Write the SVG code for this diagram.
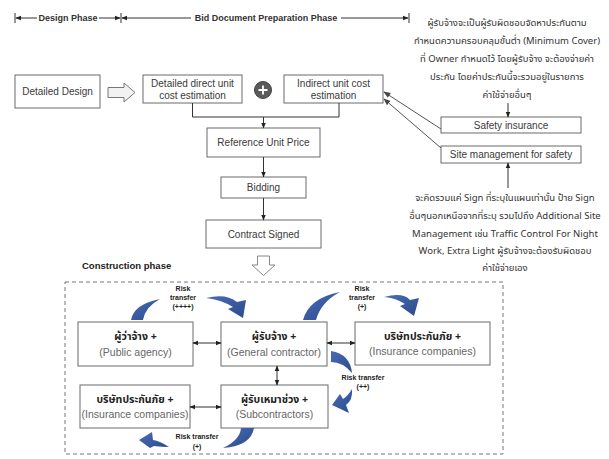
<svg xmlns="http://www.w3.org/2000/svg" width="609" height="459" viewBox="0 0 609 459">
<defs>
  <style>
    .box{fill:#fff;stroke:#6a6a6a;stroke-width:1}
    .t{font-family:"Liberation Sans",Arial,sans-serif;font-size:10px;fill:#3a3a3a;text-anchor:middle}
    .th{font-family:"Noto Sans Thai","Noto Sans","DejaVu Sans",sans-serif;font-size:9.5px;fill:#333;text-anchor:middle}
    .ph{font-family:"Liberation Sans",Arial,sans-serif;font-size:9px;font-weight:bold;fill:#333;text-anchor:middle}
    .cn{font-family:"Noto Sans Thai","Liberation Sans",sans-serif;font-size:10.5px;font-weight:bold;fill:#222;text-anchor:middle}
    .ce{font-family:"Liberation Sans",Arial,sans-serif;font-size:10.5px;fill:#666;text-anchor:middle}
    .rk{font-family:"Liberation Sans",Arial,sans-serif;font-size:7px;font-weight:bold;fill:#222;text-anchor:middle}
    .ln{fill:none;stroke:#333;stroke-width:1}
    .gl{fill:none;stroke:#555;stroke-width:1}
    .sw{fill:url(#blue);stroke:none}
  </style>
  <marker id="ah" viewBox="0 0 10 10" refX="9" refY="5" markerWidth="6" markerHeight="6" orient="auto-start-reverse">
    <path d="M0,1 L10,5 L0,9 Z" fill="#222"/>
  </marker>
  <marker id="ahg" viewBox="0 0 10 10" refX="9" refY="5" markerWidth="7" markerHeight="7" orient="auto">
    <path d="M0,1 L10,5 L0,9 Z" fill="#444"/>
  </marker>
  <linearGradient id="blue" x1="0" y1="0" x2="1" y2="1">
    <stop offset="0" stop-color="#4a6cb5"/>
    <stop offset="1" stop-color="#2c4a8c"/>
  </linearGradient>
</defs>

<!-- phase timeline -->
<g id="timeline">
  <line class="ln" x1="15" y1="13" x2="15" y2="23"/>
  <line class="ln" x1="121" y1="13" x2="121" y2="23"/>
  <line class="ln" x1="409" y1="13" x2="409" y2="23"/>
  <line class="ln" x1="37" y1="18" x2="16" y2="18" marker-end="url(#ah)"/>
  <line class="ln" x1="99" y1="18" x2="120" y2="18" marker-end="url(#ah)"/>
  <line class="ln" x1="191" y1="18" x2="122" y2="18" marker-end="url(#ah)"/>
  <line class="ln" x1="341" y1="18" x2="408" y2="18" marker-end="url(#ah)"/>
  <text class="ph" x="68" y="21">Design Phase</text>
  <text class="ph" x="266" y="21">Bid Document Preparation Phase</text>
</g>

<!-- bid preparation flow -->
<g id="detailed-design">
  <rect class="box" x="15" y="75" width="85" height="33"/>
  <text class="t" x="57.5" y="95">Detailed Design</text>
</g>
<g id="design-to-direct">
  <polygon points="108,87.5 124,87.5 124,83 135,92.5 124,102 124,97.5 108,97.5" fill="#f2f2f2" stroke="#777"/>
</g>
<g id="direct-cost">
  <rect class="box" x="143" y="75" width="99" height="28"/>
  <text class="t" x="192.5" y="87">Detailed direct unit</text>
  <text class="t" x="192.5" y="99">cost estimation</text>
</g>
<g id="plus">
  <circle cx="263" cy="90" r="8.5" fill="#5a5a5a" stroke="#444"/>
  <path d="M263,85.5 V94.5 M258.5,90 H267.5" stroke="#fff" stroke-width="1.8"/>
</g>
<g id="indirect-cost">
  <rect class="box" x="284" y="75" width="99" height="28"/>
  <text class="t" x="333.5" y="87">Indirect unit cost</text>
  <text class="t" x="333.5" y="99">estimation</text>
</g>
<g id="reference-price">
  <rect class="box" x="207" y="128" width="113" height="29"/>
  <text class="t" x="263.5" y="146">Reference Unit Price</text>
</g>
<g id="bidding">
  <rect class="box" x="221" y="177" width="85" height="21"/>
  <text class="t" x="263.5" y="191">Bidding</text>
</g>
<g id="contract-signed">
  <rect class="box" x="206" y="220" width="115" height="28"/>
  <text class="t" x="263.5" y="238">Contract Signed</text>
</g>
<g id="to-construction">
  <polygon points="257.5,256 269.5,256 269.5,265 275,265 263.5,275.5 252,265 257.5,265" fill="#fff" stroke="#888"/>
</g>

<!-- notes and safety items -->
<g id="insurance-note">
  <text class="th" x="507" y="26">ผู้รับจ้างจะเป็นผู้รับผิดชอบจัดหาประกันตาม</text>
  <text class="th" x="507" y="44">กำหนดความครอบคลุมขั้นต่ำ (Minimum Cover)</text>
  <text class="th" x="507" y="62">ที่ Owner กำหนดไว้ โดยผู้รับจ้าง จะต้องจ่ายค่า</text>
  <text class="th" x="507" y="80">ประกัน โดยค่าประกันนี้จะรวมอยู่ในรายการ</text>
  <text class="th" x="507" y="98">ค่าใช้จ่ายอื่นๆ</text>
</g>
<g id="safety-insurance">
  <rect class="box" x="441" y="117" width="140" height="16"/>
  <text class="t" x="511" y="128.5">Safety insurance</text>
</g>
<g id="site-management">
  <rect class="box" x="441" y="146" width="140" height="17"/>
  <text class="t" x="511" y="158">Site management for safety</text>
</g>
<g id="site-note">
  <text class="th" x="505" y="201">จะคิดรวมแค่ Sign ที่ระบุในแผนเท่านั้น ป้าย Sign</text>
  <text class="th" x="505" y="219">อื่นๆนอกเหนือจากที่ระบุ รวมไปถึง Additional Site</text>
  <text class="th" x="505" y="237">Management เช่น Traffic Control For Night</text>
  <text class="th" x="505" y="254">Work, Extra Light ผู้รับจ้างจะต้องรับผิดชอบ</text>
  <text class="th" x="505" y="271">ค่าใช้จ่ายเอง</text>
</g>

<!-- construction phase -->
<text x="82" y="269" font-family="Liberation Sans, Arial, sans-serif" font-size="9.5" font-weight="bold" fill="#222">Construction phase</text>
<rect x="65" y="282" width="438" height="172" fill="none" stroke="#777" stroke-dasharray="4,3"/>

<g id="public-agency">
  <rect class="box" x="78" y="322" width="115" height="44"/>
  <text class="cn" x="135.5" y="340">ผู้ว่าจ้าง +</text>
  <text class="ce" x="135.5" y="356">(Public agency)</text>
</g>
<g id="general-contractor">
  <rect class="box" x="221" y="322" width="106" height="44"/>
  <text class="cn" x="274" y="340">ผู้รับจ้าง +</text>
  <text class="ce" x="274" y="356">(General contractor)</text>
</g>
<g id="insurance-right">
  <rect class="box" x="355" y="322" width="135" height="43"/>
  <text class="cn" x="422.5" y="340">บริษัทประกันภัย +</text>
  <text class="ce" x="422.5" y="355">(Insurance companies)</text>
</g>
<g id="insurance-left">
  <rect class="box" x="80" y="385" width="110" height="43"/>
  <text class="cn" x="135" y="403">บริษัทประกันภัย +</text>
  <text class="ce" x="135" y="418">(Insurance companies)</text>
</g>
<g id="subcontractors">
  <rect class="box" x="221" y="385" width="107" height="43"/>
  <text class="cn" x="274.5" y="403">ผู้รับเหมาช่วง +</text>
  <text class="ce" x="274.5" y="418">(Subcontractors)</text>
</g>

<!-- risk transfer swooshes and labels -->
<g id="risk-transfer">
  <path class="sw" d="M131,320 Q134,304 160,299 Q145,307 143,320 Z"/>
  <path class="sw" d="M206,298 Q226,293 237,302 L246,300 L243,318 L228,309 L233,307 Q222,300 206,298 Z"/>
  <text class="rk" x="183" y="291">Risk</text>
  <text class="rk" x="183" y="300">transfer</text>
  <text class="rk" x="183" y="309">(++++)</text>

  <path class="sw" d="M303,320 Q309,298 340,292 Q321,302 316,320 Z"/>
  <path class="sw" d="M384,297 Q403,292 410,300 L419,298 L414,316 L400,306 L405,304 Q396,298 384,297 Z"/>
  <text class="rk" x="362" y="291">Risk</text>
  <text class="rk" x="362" y="300">transfer</text>
  <text class="rk" x="362" y="309">(+)</text>

  <path class="sw" d="M331,351 Q350,354 352,373 Q343,362 331,362 Z"/>
  <path class="sw" d="M352,389 Q353,400 346,405 L349,413 L332,405 L340,394 L343,399 Q348,396 352,389 Z"/>
  <text class="rk" x="363" y="380">Risk transfer</text>
  <text class="rk" x="363" y="389">(++)</text>

  <path class="sw" d="M241,428 L254,428 Q251,446 223,448 Q240,440 241,428 Z"/>
  <path class="sw" d="M169,447 Q160,441 153,440 L152,432 L139,440 L150,448 L154,446 Q162,447 169,447 Z"/>
  <text class="rk" x="197" y="439">Risk transfer</text>
  <text class="rk" x="197" y="449">(+)</text>
</g>

<!-- connectors -->
<g id="connectors">
  <path class="ln" d="M192.5,103 V117 H339 V103"/>
  <line class="ln" x1="263.5" y1="117" x2="263.5" y2="128" marker-end="url(#ah)"/>
  <line class="ln" x1="263.5" y1="157" x2="263.5" y2="177" marker-end="url(#ah)"/>
  <line class="ln" x1="263.5" y1="198" x2="263.5" y2="220" marker-end="url(#ah)"/>
  <line class="gl" x1="441" y1="129" x2="384" y2="92" marker-end="url(#ahg)"/>
  <line class="gl" x1="441" y1="148" x2="384" y2="99" marker-end="url(#ahg)"/>
  <line class="ln" x1="508" y1="103" x2="508" y2="117" marker-end="url(#ah)"/>
  <line class="ln" x1="508" y1="188" x2="508" y2="163" marker-end="url(#ah)"/>
  <line class="ln" x1="193" y1="343" x2="221" y2="343" marker-start="url(#ah)" marker-end="url(#ah)"/>
  <line class="ln" x1="327" y1="343" x2="355" y2="343" marker-start="url(#ah)" marker-end="url(#ah)"/>
  <line class="ln" x1="190" y1="407" x2="221" y2="407" marker-start="url(#ah)" marker-end="url(#ah)"/>
  <line class="ln" x1="277" y1="366" x2="277" y2="385" marker-start="url(#ah)" marker-end="url(#ah)"/>
</g>
</svg>
